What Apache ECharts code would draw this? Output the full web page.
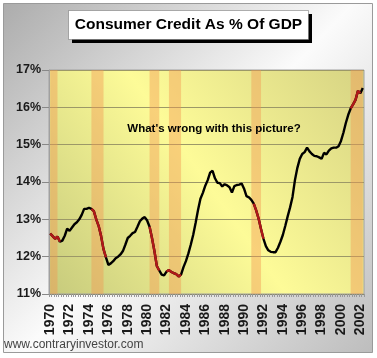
<!DOCTYPE html>
<html>
<head>
<meta charset="utf-8">
<script src="https://cdn.jsdelivr.net/npm/echarts@6/dist/echarts.min.js"></script>
<style>
html,body{margin:0;padding:0;background:#fff;}
#chart{width:377px;height:358px;}
</style>
</head>
<body>
<div id="chart"></div>
<script>
// Quarterly observations 1970Q1 .. 2002Q2 (consumer credit as % of GDP)
var startYear = 1970;
var values = [
  12.62, 12.55, 12.48, 12.54, 12.40, 12.43, 12.56, 12.75,
  12.69, 12.78, 12.87, 12.92, 13.00, 13.12, 13.28, 13.28,
  13.31, 13.28, 13.22, 13.00, 12.82, 12.55, 12.20, 11.98,
  11.78, 11.82, 11.88, 11.96, 12.00, 12.06, 12.15, 12.32,
  12.50, 12.56, 12.63, 12.66, 12.80, 12.95, 13.02, 13.06,
  12.97, 12.80, 12.50, 12.15, 11.75, 11.63, 11.52, 11.50,
  11.60, 11.64, 11.59, 11.56, 11.53, 11.47, 11.52, 11.72,
  11.88, 12.08, 12.32, 12.58, 12.90, 13.25, 13.55, 13.71,
  13.90, 14.05, 14.25, 14.30, 14.10, 13.98, 13.97, 13.88,
  13.94, 13.91, 13.86, 13.72, 13.89, 13.92, 13.93, 13.96,
  13.82, 13.62, 13.59, 13.52, 13.42, 13.24, 13.02, 12.74,
  12.48, 12.28, 12.17, 12.13, 12.12, 12.12, 12.24, 12.40,
  12.58, 12.82, 13.08, 13.32, 13.60, 14.05, 14.38, 14.62,
  14.75, 14.80, 14.92, 14.82, 14.75, 14.70, 14.69, 14.66,
  14.62, 14.78, 14.74, 14.84, 14.90, 14.92, 14.92, 14.96,
  15.10, 15.32, 15.58, 15.80, 15.97, 16.08, 16.20, 16.44,
  16.38, 16.52
];
// Recession shading (shown as quarter ranges, first..last)
var recessions = [
  ['1970Q1', '1970Q4'],
  ['1974Q2', '1975Q3'],
  ['1980Q2', '1981Q2'],
  ['1982Q2', '1983Q3'],
  ['1990Q4', '1991Q4'],
  ['2001Q1', '2002Q2']
];
// Line drawn in red over these index ranges
var redRanges = [[0, 4], [17, 23], [41, 45], [48, 54], [84, 88], [124, 128]];
var yTicks = [11, 12, 13, 14, 15, 16, 17];

var categories = values.map(function (v, i) {
  return (startYear + Math.floor(i / 4)) + 'Q' + (i % 4 + 1);
});
var redValues = values.map(function (v, i) {
  for (var k = 0; k < redRanges.length; k++) {
    if (i >= redRanges[k][0] && i <= redRanges[k][1]) return v;
  }
  return '-';
});

var chart = echarts.init(document.getElementById('chart'), null, {renderer: 'canvas'});
var option = {
  animation: false,
  graphic: [
    {
      type: 'rect', z: -10, silent: true,
      shape: {x: 3.5, y: 3.5, width: 369, height: 349},
      style: {
        fill: new echarts.graphic.LinearGradient(0, 0, 1, 1, [
          {offset: 0, color: '#acacac'},
          {offset: 0.5, color: '#fbfbfb'},
          {offset: 1, color: '#bdbdbd'}
        ]),
        stroke: '#9a9a9a', lineWidth: 1
      }
    },
    {
      type: 'rect', z: 10, silent: true,
      shape: {x: 72, y: 14, width: 240, height: 29},
      style: {fill: '#000'}
    },
    {
      type: 'rect', z: 11, silent: true,
      shape: {x: 68.5, y: 10.5, width: 240, height: 29},
      style: {fill: '#fff', stroke: '#666', lineWidth: 0.5}
    },
    {
      type: 'text', z: 12, silent: true,
      x: 188.5, y: 25,
      style: {
        text: 'Consumer Credit As % Of GDP',
        fill: '#000', font: 'bold 15.5px "Liberation Sans", Arial, sans-serif',
        align: 'center', verticalAlign: 'middle'
      }
    },
    {
      type: 'text', z: 12, silent: true,
      x: 214, y: 129,
      style: {
        text: "What's wrong with this picture?",
        fill: '#000', font: 'bold 11.5px "Liberation Sans", Arial, sans-serif',
        align: 'center', verticalAlign: 'middle'
      }
    },
    {
      type: 'text', z: 12, silent: true,
      x: 4, y: 345,
      style: {
        text: 'www.contraryinvestor.com',
        fill: '#444', font: '12px "Liberation Sans", Arial, sans-serif',
        align: 'left', verticalAlign: 'middle'
      }
    }
  ],
  grid: {
    left: 49, right: 13, top: 70, bottom: 64,
    show: true,
    borderColor: '#a0a0a0', borderWidth: 1,
    backgroundColor: new echarts.graphic.LinearGradient(0, 1, 1, 0, [
      {offset: 0, color: '#c6ca7c'},
      {offset: 0.5, color: '#fdfb98'},
      {offset: 1, color: '#d6d383'}
    ])
  },
  xAxis: {
    type: 'category',
    data: categories,
    boundaryGap: true,
    axisLine: {lineStyle: {color: '#8a8a70', width: 1}},
    axisTick: {show: true, interval: 0, length: 3, lineStyle: {color: '#999'}},
    axisLabel: {
      interval: function (idx) { return idx % 8 === 0; },
      formatter: function (v) { return v.slice(0, 4); },
      rotate: 90,
      margin: 10,
      color: '#1a1a1a',
      fontWeight: 'bold',
      fontSize: 14,
      fontFamily: '"Liberation Sans", Arial, sans-serif'
    },
    splitLine: {show: false}
  },
  yAxis: {
    type: 'value',
    min: yTicks[0], max: yTicks[yTicks.length - 1], interval: 1,
    axisLine: {show: true, lineStyle: {color: '#a0a0a0'}},
    axisTick: {show: true, length: 7, lineStyle: {color: '#888'}},
    axisLabel: {
      formatter: '{value}%',
      margin: 8,
      color: '#1a1a1a',
      fontWeight: 'bold',
      fontSize: 12.5,
      fontFamily: '"Liberation Sans", Arial, sans-serif'
    },
    splitLine: {show: true, lineStyle: {color: '#9c9868', width: 1}}
  },
  series: [
    {
      type: 'line',
      data: values,
      showSymbol: false,
      smooth: false,
      z: 3,
      lineStyle: {color: '#000', width: 2.4},
      markArea: {
        silent: true,
        itemStyle: {color: 'rgba(242,150,80,0.42)'},
        data: recessions.map(function (r) { return [{xAxis: r[0]}, {xAxis: r[1]}]; })
      }
    },
    {
      type: 'line',
      data: redValues,
      showSymbol: false,
      connectNulls: false,
      z: 4,
      lineStyle: {color: '#b01818', width: 2.4}
    }
  ]
};
chart.setOption(option);
</script>
</body>
</html>
